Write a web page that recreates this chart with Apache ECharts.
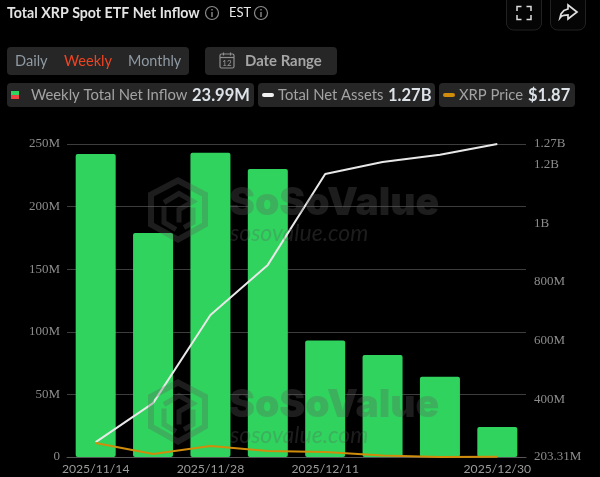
<!DOCTYPE html>
<html><head><meta charset="utf-8">
<script src="https://cdn.jsdelivr.net/npm/echarts@6/dist/echarts.min.js"></script>
<style>html,body{margin:0;padding:0;background:#000}#c{width:600px;height:477px}</style>
</head><body><div id="c"></div>
<script>
const categories=['2025/11/14','2025/11/21','2025/11/28','2025/12/05','2025/12/11','2025/12/19','2025/12/26','2025/12/30'];
const weeklyInflowM=[242,179,243,230,93,81.5,64,23.99];
const totalAssetsM=[254,387,687,858,1168,1209,1233,1270];
const xrpPrice=[2.24,1.94,2.16,2.02,1.995,1.90,1.86,1.87];
const leftTicks=[0,50,100,150,200,250];
const rightTicks=[203.31,400,600,800,1000,1200,1270];
const shownDates=[0,2,4,7];
const sans='Lato, "Open Sans", sans-serif';
const serif='"Liberation Serif", serif';
const T=(x,y,text,o={})=>({type:'text',x,y,silent:true,z:o.z||20,style:{text,fill:o.c||'#a3a3a3',font:`${o.w||'normal'} ${o.s||14.8}px ${sans}`,textAlign:o.a||'left',textVerticalAlign:'middle'}});
const R=(x,y,w,h,r,fill,stroke)=>({type:'rect',silent:true,z:10,shape:{x,y,width:w,height:h,r},style:{fill:fill||'transparent',stroke:stroke||null,lineWidth:1}});
const info=(cx,cy)=>[
 {type:'circle',silent:true,z:20,shape:{cx,cy,r:6.5},style:{fill:'transparent',stroke:'#8a8a8a',lineWidth:1.2}},
 {type:'rect',silent:true,z:20,shape:{x:cx-.7,y:cy-1,width:1.4,height:5},style:{fill:'#8a8a8a'}},
 {type:'rect',silent:true,z:20,shape:{x:cx-.7,y:cy-4,width:1.4,height:1.6},style:{fill:'#8a8a8a'}}];
const line=(pts,stroke,lw)=>({type:'polyline',silent:true,z:20,shape:{points:pts},style:{fill:null,stroke,lineWidth:lw||1.5}});
const mark=(ox,oy)=>{const c='rgba(95,95,95,0.30)';const hex=[[0,-28],[27,-14],[27,16],[0,31],[-27,16],[-27,-14]].map(p=>[ox+p[0],oy+p[1]]);
 return [
 {type:'polygon',silent:true,z:30,shape:{points:hex},style:{fill:'transparent',stroke:c,lineWidth:6}},
 {type:'polyline',silent:true,z:30,shape:{points:[[ox-14,oy-6],[ox+1,oy-15],[ox+15,oy-7],[ox+1,oy+1],[ox+1,oy+14]]},style:{fill:null,stroke:c,lineWidth:5}},
 {type:'polyline',silent:true,z:30,shape:{points:[[ox-14,oy-2],[ox-14,oy+14],[ox-2,oy+21]]},style:{fill:null,stroke:c,lineWidth:5}},
 {type:'polyline',silent:true,z:30,shape:{points:[[ox+15,oy-1],[ox+15,oy+14],[ox+6,oy+19]]},style:{fill:null,stroke:c,lineWidth:5}},
 {type:'text',silent:true,z:30,x:ox+51,y:oy-5.5,style:{text:'SoSoValue',fill:c,font:`900 39px Inter, ${sans}`,textVerticalAlign:'middle'}},
 {type:'text',silent:true,z:30,x:ox+52,y:oy+25,style:{text:'sosovalue.com',fill:c,font:`italic 23px ${sans}`,textVerticalAlign:'middle'}}
 ];};
const graphics=[
 T(7,13,'Total XRP Spot ETF Net Inflow',{c:'#e4e4e4',w:'bold',s:14.2}),
 ...info(212,13),
 T(229,13,'EST',{c:'#e8e8e8',s:13}),
 ...info(261,13),
 R(506.5,-6,35,36,7,'#050505','#222'),R(550.5,-6,35,36,7,'#050505','#222'),
 line([[517,11],[517,6.5],[521.5,6.5]],'#ddd'),line([[526.5,6.5],[531,6.5],[531,11]],'#ddd'),
 line([[517,15],[517,19.5],[521.5,19.5]],'#ddd'),line([[526.5,19.5],[531,19.5],[531,15]],'#ddd'),
 {type:'polygon',silent:true,z:20,shape:{points:[[568,5],[577,12],[568,19],[568,15],[564,15.3],[561.5,16.3],[560,18],[561,14],[564,10.5],[568,9]]},style:{fill:'transparent',stroke:'#e0e0e0',lineWidth:1.7}},
 R(7,47,182,28,4,'#262626'),
 T(15,61,'Daily',{c:'#8f9aa3',s:14.6}),T(64,61,'Weekly',{c:'#ee4422',s:14.6}),T(128,61,'Monthly',{c:'#8f9aa3',s:14.4}),
 R(205,47,132,28,4,'#262626'),
 {type:'rect',silent:true,z:20,shape:{x:220,y:54,width:14,height:14,r:1.5},style:{fill:'transparent',stroke:'#8f8f8f',lineWidth:1.2}},
 line([[220,57.5],[234,57.5]],'#8f8f8f',1.2),line([[223.5,52.5],[223.5,55.5]],'#8f8f8f',1.2),line([[230.5,52.5],[230.5,55.5]],'#8f8f8f',1.2),
 T(227,63,'12',{c:'#9a9a9a',s:8,a:'center'}),
 T(245,61,'Date Range',{c:'#a5a5a5',w:'bold',s:14.9}),
 R(7,83,247,24,4,'#262626'),
 {type:'rect',silent:true,z:20,shape:{x:11,y:91,width:8,height:4},style:{fill:'#2fd35d'}},
 {type:'rect',silent:true,z:20,shape:{x:11,y:95,width:8,height:4},style:{fill:'#ee4444'}},
 T(31,95.5,'Weekly Total Net Inflow',{}),T(192,95.5,'23.99M',{c:'#dde3e8',w:'bold',s:16.5}),
 R(258,83,177,24,4,'#262626'),
 R(262,93,12,4,2,'#f2f2f2'),
 T(278,95.5,'Total Net Assets',{}),T(388,95.5,'1.27B',{c:'#dde3e8',w:'bold',s:16.5}),
 R(439,83,136,24,4,'#262626'),
 R(443,93,12,4,2,'#d08c0a'),
 T(459,95.5,'XRP Price',{}),T(528,95.5,'$1.87',{c:'#dde3e8',w:'bold',s:16.5}),
 ...mark(178,208.5),...mark(178,410.5)
];
const chart=echarts.init(document.getElementById('c'),null,{renderer:'canvas'});
chart.setOption({
 animation:false,backgroundColor:'#000',
 grid:{left:67,right:74,top:144,bottom:20,containLabel:false},
 xAxis:{type:'category',data:categories,
  axisLine:{show:true,lineStyle:{color:'#555'}},axisTick:{show:false},
  axisLabel:{color:'#9a9a9a',fontFamily:sans,fontSize:12.2,margin:6,hideOverlap:false,showMinLabel:true,showMaxLabel:true,
   interval:(i)=>shownDates.includes(i)}},
 yAxis:[
  {type:'value',min:0,max:250,interval:50,position:'left',
   axisLine:{show:false},axisTick:{show:false},splitLine:{lineStyle:{color:'#3d3d3d',width:1}},
   axisLabel:{color:'#8c8c8c',fontFamily:serif,fontSize:13,margin:7,padding:[2,0,0,0],formatter:v=>leftTicks.includes(v)?(v===0?'0':v+'M'):''}},
  {type:'value',min:203.31,max:1270,position:'right',
   axisLine:{show:false},axisTick:{show:false},splitLine:{show:false},
   axisLabel:{color:'#8c8c8c',fontFamily:serif,fontSize:13,margin:8,padding:[2,0,0,0],customValues:rightTicks,
    formatter:v=>v>=1270?'1.27B':v>=1200?'1.2B':v>=1000?'1B':(v+'M')}},
  {type:'value',min:1.86,max:10.35,show:false,splitLine:{show:false}}
 ],
 series:[
  {name:'Weekly Total Net Inflow',type:'bar',data:weeklyInflowM,yAxisIndex:0,barWidth:40,itemStyle:{color:'#2fd35d',borderRadius:2},z:2},
  {name:'Total Net Assets',type:'line',data:totalAssetsM,yAxisIndex:1,symbol:'none',lineStyle:{color:'#e8e8e8',width:2},z:3},
  {name:'XRP Price',type:'line',data:xrpPrice,yAxisIndex:2,symbol:'none',lineStyle:{color:'#d08c0a',width:2},z:4}
 ],
 graphic:{elements:graphics}
});
</script></body></html>
